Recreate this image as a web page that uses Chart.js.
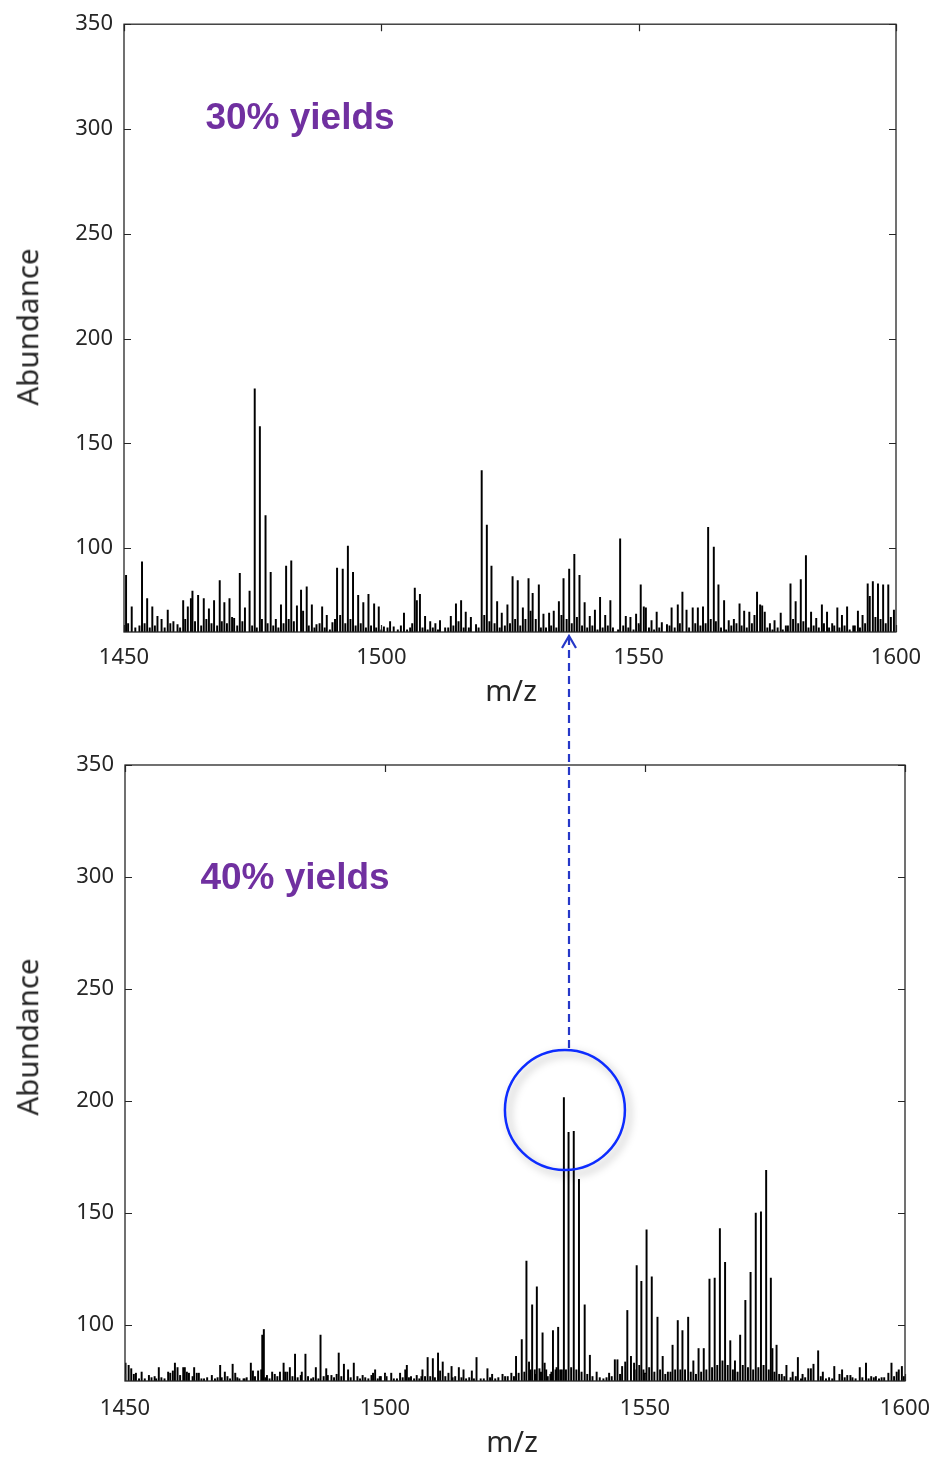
<!DOCTYPE html>
<html>
<head>
<meta charset="utf-8">
<title>Mass spectra</title>
<script src="https://cdn.jsdelivr.net/npm/chart.js@4"></script>
<style>
  body { margin: 0; background: #fff; }
  #page { position: relative; width: 935px; height: 1459px; overflow: hidden; background: #fff; }
  canvas { position: absolute; left: 0; }
  #topChart { top: 0; }
  #botChart { top: 740px; }
  #overlay { top: 0; z-index: 5; pointer-events: none; }
  .lbl { position: absolute; transform: translate(-50%, -50%); white-space: nowrap;
         font-family: "Noto Sans", "Open Sans", sans-serif; color: #262626; font-size: 29px; line-height: 1; }
  .ylbl { transform: translate(-50%, -50%) rotate(-90deg); font-size: 29.5px; }
  .yield { font-family: "Liberation Sans", Arial, sans-serif; font-weight: bold; font-size: 37px; color: #7030a0; }
</style>
</head>
<body>
<div id="page">
  <canvas id="topChart" width="935" height="720"></canvas>
  <canvas id="botChart" width="935" height="719"></canvas>
  <canvas id="overlay" width="935" height="1459"></canvas>

  <div class="lbl ylbl" style="left:27px; top:327px;">Abundance</div>
  <div class="lbl" style="left:511px; top:689px;">m/z</div>
  <div class="lbl yield" style="left:300px; top:116px;">30% yields</div>

  <div class="lbl ylbl" style="left:27px; top:1037px;">Abundance</div>
  <div class="lbl" style="left:512px; top:1440px;">m/z</div>
  <div class="lbl yield" style="left:295px; top:876px;">40% yields</div>
</div>

<script>
// m/z range and tick marks shared by both spectra
const mzTicks = [1450, 1500, 1550, 1600];
const abundanceTicks = [100, 150, 200, 250, 300, 350];

// 30% yields spectrum: resolved peaks
const topMz = [
  1450.4, 1451.5, 1453.5, 1454.5, 1455.5, 1456.5, 1457.3, 1458.5, 1459.6, 1460.4,
  1461.5, 1462.4, 1463.0, 1463.3, 1464.4, 1465.5, 1466.5, 1467.5, 1468.6, 1469.5,
  1470.5, 1471.4, 1472.5, 1473.5, 1474.4, 1475.4, 1476.4, 1477.5, 1478.5, 1479.5,
  1480.5, 1481.5, 1482.5, 1483.6, 1484.4, 1484.8, 1485.5, 1486.5, 1487.4, 1488.5,
  1489.4, 1490.5, 1491.4, 1492.5, 1493.5, 1494.5, 1495.5, 1496.5, 1497.5, 1498.6,
  1499.5, 1500.5, 1501.7, 1502.4, 1503.8, 1504.4, 1505.6, 1506.5, 1506.9, 1507.5,
  1508.5, 1509.5, 1510.5, 1511.4, 1512.4, 1513.5, 1514.5, 1515.5, 1516.4, 1517.4,
  1518.4, 1519.5, 1520.5, 1521.4, 1522.5, 1523.4, 1524.5, 1525.5, 1526.5, 1527.5,
  1528.6, 1529.4, 1530.6, 1531.5, 1532.6, 1533.5, 1534.5, 1535.4, 1536.5, 1537.5,
  1538.5, 1539.5, 1540.5, 1541.5, 1542.5, 1543.5, 1544.5, 1546.4, 1547.5, 1548.4,
  1549.5, 1550.4, 1551.0, 1551.4, 1552.5, 1553.5, 1554.5, 1555.5, 1556.4, 1557.6,
  1558.5, 1559.3, 1560.5, 1561.5, 1562.5, 1563.5, 1564.6, 1565.5, 1566.6, 1567.5,
  1568.5, 1569.6, 1570.5, 1571.5, 1572.5, 1573.0, 1573.6, 1574.0, 1574.5, 1575.5,
  1576.4, 1577.6, 1578.6, 1579.5, 1580.5, 1581.5, 1582.5, 1583.5, 1584.5, 1585.6,
  1586.6, 1587.6, 1588.6, 1589.5, 1590.5, 1591.7, 1592.6, 1593.5, 1594.5, 1594.9,
  1595.5, 1596.0, 1596.5, 1597.5, 1598.5, 1599.6
];
const topAbundance = [
  87, 72, 93.5, 76, 72, 67.5, 66, 70.5, 65, 63.5,
  75, 72, 76, 79.5, 77.5, 76, 71, 75, 84.5, 74,
  76, 66.5, 88, 71.5, 79.5, 176, 158, 115.5, 88.5, 66,
  73, 91.5, 94, 72.5, 80, 70, 81.5, 73, 63.5, 72,
  68, 64.5, 90.5, 90, 101, 88.5, 77.5, 74, 78, 73.5,
  72, 62.5, 65, 62.5, 63, 69, 62, 81, 75, 78,
  67.5, 65, 64, 65.5, 62, 67.5, 73.5, 75, 69.5, 67,
  63.5, 137, 111, 91.5, 74.5, 69, 73, 86.5, 84.5, 71.5,
  85.5, 78.5, 82.5, 68.5, 69, 70, 74.5, 85.5, 90, 97,
  87, 74, 67.5, 70.5, 76.5, 68, 75, 104.5, 67.5, 67,
  68.5, 82.5, 72, 71.5, 65.5, 69.5, 64.5, 63.5, 71.5, 73,
  79, 70.5, 71.5, 71.5, 72, 110, 100.5, 82.5, 75, 65.5,
  66, 73.5, 70, 69.5, 68, 79, 73, 72.5, 69.5, 64,
  65.5, 69, 63, 83, 74.5, 85, 96.5, 69.5, 66.5, 73,
  69.5, 64, 71.5, 68, 72, 63, 70, 68, 83, 77,
  84, 67, 83, 82.5, 82.5, 70.5
];
// 30% yields spectrum: low-level peaks along the baseline
const topMinorMz = [
  1450.8, 1452.2, 1453.0, 1454.0, 1455.0, 1456.0, 1457.9, 1459.0, 1460.9, 1461.9,
  1463.8, 1465.0, 1466.0, 1467.0, 1468.1, 1469.0, 1470.0, 1471.0, 1472.0, 1473.0,
  1474.9, 1475.8, 1476.8, 1477.9, 1479.0, 1480.0, 1481.0, 1482.0, 1483.0, 1485.9,
  1487.0, 1488.0, 1489.0, 1490.0, 1491.0, 1492.0, 1493.0, 1494.0, 1495.0, 1496.0,
  1497.0, 1498.0, 1499.0, 1500.0, 1501.2, 1503.2, 1505.0, 1506.0, 1508.0, 1509.0,
  1510.0, 1511.0, 1513.0, 1514.0, 1515.0, 1516.0, 1517.0, 1518.9, 1520.0, 1521.0,
  1522.0, 1523.0, 1524.0, 1525.0, 1526.0, 1527.0, 1528.0, 1529.0, 1530.0, 1531.0,
  1532.0, 1533.0, 1534.0, 1535.0, 1536.0, 1537.0, 1538.0, 1539.0, 1540.0, 1541.0,
  1542.0, 1543.0, 1544.0, 1545.0, 1546.0, 1547.0, 1548.0, 1549.0, 1550.0, 1552.0,
  1553.0, 1554.0, 1556.0, 1557.0, 1558.0, 1559.8, 1561.0, 1562.0, 1563.0, 1564.0,
  1565.0, 1566.0, 1567.0, 1568.0, 1569.0, 1570.0, 1571.0, 1572.0, 1575.0, 1576.0,
  1577.0, 1578.0, 1579.0, 1580.0, 1581.0, 1582.0, 1583.0, 1584.0, 1585.0, 1586.0,
  1587.0, 1588.0, 1589.0, 1590.0, 1591.0, 1592.0, 1593.0, 1594.0, 1597.0, 1598.0,
  1599.0
];
const topMinorAbundance = [
  64, 62, 63, 64, 62, 63, 62, 64, 62, 66,
  65, 63, 66, 64, 63, 65, 64, 67, 63, 65,
  63, 62, 66, 64, 63, 62, 64, 66, 65, 63,
  62, 64, 62, 61, 66, 68, 64, 66, 63, 64,
  62, 63, 62, 61, 62, 61, 61, 64, 62, 61,
  62, 61, 62, 63, 65, 62, 62, 62, 68, 65,
  64, 62, 63, 64, 66, 63, 66, 70, 66, 62,
  62, 63, 62, 68, 66, 64, 67, 63, 62, 63,
  61, 62, 63, 62, 61, 63, 62, 61, 64, 62,
  61, 62, 63, 62, 64, 62, 64, 63, 64, 66,
  65, 62, 61, 63, 64, 63, 62, 64, 62, 61,
  62, 61, 63, 66, 64, 65, 62, 63, 62, 64,
  62, 63, 62, 63, 61, 63, 62, 64, 66, 64,
  67
];

// 40% yields spectrum: resolved peaks
const botMz = [
  1450.1, 1450.7, 1451.2, 1451.7, 1452.1, 1452.7, 1453.2, 1454.6, 1455.7, 1456.5,
  1458.3, 1458.7, 1459.2, 1459.6, 1460.1, 1460.6, 1461.2, 1461.5, 1461.9, 1462.3,
  1463.3, 1463.8, 1464.2, 1465.2, 1466.7, 1468.3, 1468.6, 1469.2, 1470.2, 1470.7,
  1471.2, 1472.0, 1472.8, 1473.4, 1474.2, 1474.6, 1475.6, 1476.2, 1476.4, 1476.7,
  1477.3, 1478.3, 1478.8, 1479.8, 1480.5, 1480.8, 1481.2, 1481.7, 1482.7, 1483.8,
  1484.0, 1484.7, 1485.2, 1485.8, 1486.7, 1487.6, 1488.7, 1489.0, 1489.7, 1490.7,
  1491.1, 1492.1, 1492.9, 1494.0, 1494.7, 1495.7, 1497.4, 1497.7, 1498.1, 1499.0,
  1499.2, 1500.0, 1500.3, 1501.2, 1502.3, 1502.9, 1503.4, 1503.9, 1504.2, 1505.0,
  1506.1, 1507.0, 1507.2, 1508.2, 1509.2, 1509.6, 1510.2, 1510.6, 1511.1, 1512.2,
  1512.8, 1513.5, 1514.2, 1515.1, 1516.7, 1517.6, 1518.4, 1519.7, 1520.6, 1522.6,
  1523.1, 1523.6, 1524.3, 1525.2, 1525.7, 1526.3, 1527.2, 1527.7, 1528.3, 1528.8,
  1529.2, 1529.7, 1530.3, 1530.7, 1531.3, 1532.3, 1532.8, 1533.3, 1533.7, 1534.4,
  1535.3, 1536.3, 1537.3, 1538.4, 1539.4, 1540.7, 1543.1, 1544.2, 1544.7, 1545.6,
  1546.2, 1546.6, 1547.3, 1547.9, 1548.4, 1549.3, 1550.0, 1550.3, 1551.3, 1552.4,
  1553.4, 1554.4, 1555.3, 1556.3, 1557.2, 1558.3, 1559.3, 1560.3, 1561.3, 1562.4,
  1563.4, 1564.4, 1565.4, 1566.4, 1567.3, 1568.3, 1569.3, 1570.3, 1571.3, 1572.3,
  1573.3, 1574.2, 1574.5, 1575.3, 1576.3, 1577.2, 1578.4, 1579.4, 1580.3, 1581.4,
  1581.9, 1582.4, 1583.3, 1584.2, 1586.4, 1587.4, 1587.9, 1588.9, 1589.5, 1589.9,
  1591.3, 1592.5, 1593.5, 1594.4, 1596.0, 1596.8, 1597.4, 1598.4, 1598.8, 1599.4
];
const botAbundance = [
  83, 82, 80.5, 78, 78.5, 76, 79, 77.5, 77, 81,
  79, 78.5, 79.5, 83, 81, 77.5, 81, 81, 79, 78.5,
  81, 78.5, 78.5, 76, 77.5, 82, 76.5, 79, 76, 82.5,
  78.5, 76, 76, 76.5, 83, 79.5, 79.5, 80, 95.5, 98,
  77.5, 79, 78, 79, 83, 79, 79, 81, 87, 77.5,
  79, 87, 77, 76, 81, 95.5, 80.5, 77.5, 77.5, 78,
  87.5, 82.5, 80, 83, 77, 77.5, 77.5, 78.5, 80, 77,
  77, 78.5, 77, 78.5, 76, 78.5, 76.5, 80, 82, 77,
  77.5, 77, 80, 85.5, 85, 76.5, 87.5, 79.5, 83.5, 78.5,
  81.5, 77, 81, 80, 79.5, 85.5, 76, 80.5, 78, 78,
  77, 77, 78.5, 86, 78.5, 93.5, 128.5, 83.5, 109, 80,
  117, 80.5, 96.5, 83, 77, 97.5, 80, 99, 80, 201.5,
  186, 186.5, 165, 109, 86.5, 79, 78.5, 84.5, 84.5, 81.5,
  83.5, 106.5, 86, 83, 126.5, 119.5, 78.5, 142.5, 121.5, 103.5,
  86, 79, 91, 102, 97.5, 103.5, 84, 89.5, 89.5, 120.5,
  121, 143, 128, 93, 84, 95.5, 111, 123.5, 150, 150.5,
  169, 121, 89.5, 91, 78, 82, 79, 85.5, 78, 80.5,
  80.5, 82.5, 88.5, 79, 81.5, 78, 80, 77.5, 77.5, 76.5,
  81, 83, 77, 77, 76.5, 78.5, 83, 79, 80, 81.5
];
// 40% yields spectrum: low-level peaks along the baseline
const botMinorMz = [
  1453.8, 1455.1, 1456.0, 1457.0, 1457.6, 1463.0, 1464.7, 1465.8, 1467.3, 1467.8,
  1469.7, 1471.6, 1473.0, 1475.0, 1477.0, 1477.8, 1479.3, 1482.2, 1483.2, 1486.2,
  1487.2, 1488.2, 1490.2, 1491.6, 1493.4, 1495.2, 1496.2, 1496.8, 1498.6, 1501.7,
  1504.6, 1505.6, 1506.6, 1507.7, 1508.7, 1511.6, 1513.0, 1514.7, 1515.6, 1516.2,
  1517.1, 1519.0, 1520.2, 1521.2, 1521.8, 1524.8, 1526.8, 1528.0, 1529.0, 1530.0,
  1531.0, 1531.8, 1532.0, 1533.0, 1534.0, 1534.8, 1535.8, 1536.8, 1537.8, 1538.9,
  1539.9, 1541.3, 1542.0, 1542.6, 1543.6, 1545.2, 1548.0, 1548.9, 1549.7, 1550.8,
  1551.8, 1552.9, 1553.9, 1554.9, 1555.8, 1556.8, 1557.7, 1558.8, 1559.8, 1560.8,
  1561.8, 1562.9, 1563.9, 1564.9, 1565.9, 1566.9, 1567.8, 1568.8, 1569.8, 1570.8,
  1571.8, 1572.8, 1573.8, 1574.9, 1575.8, 1576.8, 1578.0, 1579.0, 1580.0, 1580.8,
  1583.8, 1584.8, 1585.4, 1586.0, 1588.4, 1590.5, 1591.8, 1593.0, 1594.0, 1595.0,
  1595.5, 1597.9, 1599.8
];
const botMinorAbundance = [
  76, 76.5, 76, 76.5, 76, 77, 76, 76.5, 76, 76.5,
  77, 76.5, 76, 77, 76.5, 76, 77, 77, 76.5, 76.5,
  76, 77, 76.5, 77, 76.5, 76, 76.5, 76, 76, 76,
  76.5, 76, 76, 77, 77, 77, 76.5, 76.5, 76, 76.5,
  76, 76, 76.5, 76, 76.5, 77, 79, 80, 78, 79,
  80, 78, 79, 81, 80, 80, 81, 80, 79, 78,
  77, 76.5, 76, 76.5, 77, 78, 80, 82, 80, 81,
  79, 80, 78, 79, 80, 80, 80, 79, 78, 79,
  80, 81, 82, 84, 82, 80, 79, 82, 81, 80,
  81, 82, 80, 79, 78, 77, 76.5, 77, 76, 76.5,
  77, 76, 76.5, 76, 76.5, 76, 76.5, 76, 76.5, 76,
  76.5, 77, 77
];

// marked peak cluster in the 40% spectrum and the guide line up to the 30% axis
const markedPeak = { mz: 1534.6, abundance: 196 };
const guideMz = 1535.4;

const AXIS_COLOR = '#262626';
const TICK_FONT = { family: '"Noto Sans", "Open Sans", sans-serif', size: 22 };

// box around the plot with inward tick marks on all four sides
const boxTicks = {
  id: 'boxTicks',
  afterDatasetsDraw(chart) {
    const { ctx, chartArea: a, scales: { x, y } } = chart;
    const len = 7;
    ctx.save();
    ctx.strokeStyle = AXIS_COLOR;
    ctx.lineWidth = 1.3;
    ctx.strokeRect(a.left, a.top, a.right - a.left, a.bottom - a.top);
    ctx.lineWidth = 1.2;
    ctx.beginPath();
    x.ticks.forEach(t => {
      const px = Math.round(x.getPixelForValue(t.value)) + 0.5;
      ctx.moveTo(px, a.bottom); ctx.lineTo(px, a.bottom - len);
      ctx.moveTo(px, a.top); ctx.lineTo(px, a.top + len);
    });
    y.ticks.forEach(t => {
      const py = Math.round(y.getPixelForValue(t.value)) + 0.5;
      ctx.moveTo(a.left, py); ctx.lineTo(a.left + len, py);
      ctx.moveTo(a.right, py); ctx.lineTo(a.right - len, py);
    });
    ctx.stroke();
    ctx.restore();
  }
};

function peaks(mz, abundance) {
  return mz.map((m, i) => ({ x: m, y: abundance[i] }));
}

function spectrum(canvasId, points, yMin, pad, yWidth, xHeight, xLabelGap) {
  return new Chart(document.getElementById(canvasId), {
    type: 'bar',
    data: {
      datasets: [{
        data: points,
        backgroundColor: '#000',
        borderWidth: 0,
        barThickness: 1.3,
      }],
    },
    options: {
      responsive: false,
      animation: false,
      events: [],
      layout: { padding: pad },
      plugins: { legend: { display: false }, tooltip: { enabled: false } },
      scales: {
        x: {
          type: 'linear',
          offset: false,
          min: 1450,
          max: 1600,
          afterBuildTicks: s => { s.ticks = mzTicks.map(v => ({ value: v })); },
          // end labels may overhang the plot box, so keep them out of the layout
          afterFit: s => { s.height = xHeight; s.paddingLeft = 0; s.paddingRight = 0; },
          grid: { display: false, drawTicks: false },
          border: { display: false },
          ticks: { color: AXIS_COLOR, font: TICK_FONT, padding: xLabelGap, maxRotation: 0,
                   callback: v => String(v) },
        },
        y: {
          min: yMin,
          max: 350,
          afterBuildTicks: s => { s.ticks = abundanceTicks.map(v => ({ value: v })); },
          afterFit: s => { s.width = yWidth; },
          grid: { display: false, drawTicks: false },
          border: { display: false },
          ticks: { color: AXIS_COLOR, font: TICK_FONT, padding: 11, callback: v => String(v) },
        },
      },
    },
    plugins: [boxTicks],
  });
}

const topChart = spectrum('topChart',
  peaks(topMinorMz, topMinorAbundance).concat(peaks(topMz, topAbundance)), 60,
  { left: 0, right: 39, top: 22, bottom: 0 }, 124, 88, 13);
const botChart = spectrum('botChart',
  peaks(botMinorMz, botMinorAbundance).concat(peaks(botMz, botAbundance)), 75,
  { left: 0, right: 30, top: 25, bottom: 0 }, 125, 78, 15);

// circle around the marked cluster and dashed arrow up to the 30% spectrum
(function drawGuide() {
  const ctx = document.getElementById('overlay').getContext('2d');
  const botTop = 740;
  const cx = botChart.scales.x.getPixelForValue(markedPeak.mz);
  const cy = botTop + botChart.scales.y.getPixelForValue(markedPeak.abundance);
  const r = 60;
  const gx = Math.round(botChart.scales.x.getPixelForValue(guideMz));
  const tipY = topChart.chartArea.bottom + 4;

  ctx.save();
  ctx.strokeStyle = '#2638c8';
  ctx.lineWidth = 2.2;
  ctx.setLineDash([8, 5]);
  ctx.beginPath();
  ctx.moveTo(gx, cy - r - 2);
  ctx.lineTo(gx, tipY + 2);
  ctx.stroke();
  ctx.setLineDash([]);
  ctx.beginPath();
  ctx.moveTo(gx - 7, tipY + 12);
  ctx.lineTo(gx, tipY);
  ctx.lineTo(gx + 7, tipY + 12);
  ctx.stroke();
  ctx.restore();

  ctx.save();
  ctx.shadowColor = 'rgba(0, 0, 0, 0.35)';
  ctx.shadowBlur = 8;
  ctx.shadowOffsetX = 4;
  ctx.shadowOffsetY = 4;
  ctx.strokeStyle = '#0d2cff';
  ctx.lineWidth = 2.5;
  ctx.beginPath();
  ctx.arc(cx, cy, r, 0, Math.PI * 2);
  ctx.stroke();
  ctx.restore();
})();
</script>
</body>
</html>
